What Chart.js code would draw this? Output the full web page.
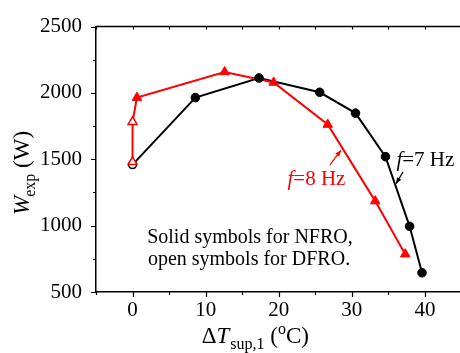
<!DOCTYPE html>
<html>
<head>
<meta charset="utf-8">
<script src="https://cdn.jsdelivr.net/npm/chart.js@4"></script>
<style>
  html, body { margin: 0; padding: 0; background: #fff; }
  #wrap { width: 460px; height: 353px; overflow: hidden; position: relative; }
  canvas { position: absolute; left: 0; top: 0; }
</style>
</head>
<body>
<div id="wrap"><canvas id="c" width="470" height="353"></canvas></div>
<script>
// Superheat degree ΔT_sup,1 (°C) and power W_exp (W)
// f = 7 Hz, circles
const f7NfroDT = [8.6, 17.3, 25.6, 30.5, 34.6, 37.9, 39.6];
const f7NfroW  = [1965, 2113, 2005, 1848, 1520, 995, 645];
const f7DfroDT = [0];
const f7DfroW  = [1460];
// f = 8 Hz, triangles
const f8NfroDT = [0.6, 12.6, 19.3, 26.7, 33.2, 37.3];
const f8NfroW  = [1965, 2158, 2079, 1762, 1185, 785];
const f8DfroDT = [0, 0];
const f8DfroW  = [1480, 1782];

const xTicks = [0, 10, 20, 30, 40];
const yTicks = [500, 1000, 1500, 2000, 2500];

const pts = (xs, ys) => xs.map((x, i) => ({ x: x, y: ys[i] }));
const FONT = '"Liberation Serif", "Times New Roman", serif';
const RED = '#ff0000';
Chart.defaults.font.family = FONT;

// draw a run of text pieces along a baseline (normal / italic / sub / sup)
function drawRuns(ctx, runs, x, y, color, base) {
  ctx.save();
  ctx.fillStyle = color;
  ctx.textBaseline = 'alphabetic';
  ctx.textAlign = 'left';
  let cx = x;
  for (const r of runs) {
    const size = r.size || base || 20;
    ctx.font = (r.italic ? 'italic ' : '') + size + 'px ' + FONT;
    ctx.fillText(r.t, cx, y + (r.dy || 0));
    cx += ctx.measureText(r.t).width + (r.kern || 0);
  }
  ctx.restore();
}

const decor = {
  id: 'decor',
  afterDraw(chart) {
    const { ctx, chartArea: a, scales: { x, y } } = chart;
    ctx.save();
    ctx.strokeStyle = '#000';
    ctx.lineWidth = 1.5;
    // top frame line
    ctx.beginPath();
    ctx.moveTo(a.left, a.top);
    ctx.lineTo(a.right + 2, a.top);
    ctx.stroke();
    // ticks
    ctx.lineWidth = 1.2;
    ctx.beginPath();
    for (let v = -5; v <= 45; v += 5) {
      const px = Math.round(x.getPixelForValue(v)) + 0.5;
      const major = v % 10 === 0;
      ctx.moveTo(px, a.bottom);
      ctx.lineTo(px, a.bottom + (major ? 5 : 3));
      ctx.moveTo(px, a.top);
      ctx.lineTo(px, a.top + 3);
    }
    for (let v = 500; v <= 2500; v += 250) {
      const py = Math.round(y.getPixelForValue(v)) + 0.5;
      const major = v % 500 === 0;
      ctx.moveTo(a.left, py);
      ctx.lineTo(a.left - (major ? 5 : 3), py);
    }
    ctx.stroke();

    // annotation arrows
    const arrow = (x0, y0, x1, y1, color) => {
      const X0 = x.getPixelForValue(x0), Y0 = y.getPixelForValue(y0);
      const X1 = x.getPixelForValue(x1), Y1 = y.getPixelForValue(y1);
      const ang = Math.atan2(Y1 - Y0, X1 - X0);
      ctx.strokeStyle = color; ctx.fillStyle = color; ctx.lineWidth = 1.2;
      ctx.beginPath(); ctx.moveTo(X0, Y0); ctx.lineTo(X1, Y1); ctx.stroke();
      const L = 6, W = 2.5;
      ctx.beginPath();
      ctx.moveTo(X1, Y1);
      ctx.lineTo(X1 - L * Math.cos(ang) + W * Math.sin(ang), Y1 - L * Math.sin(ang) - W * Math.cos(ang));
      ctx.lineTo(X1 - L * Math.cos(ang) - W * Math.sin(ang), Y1 - L * Math.sin(ang) + W * Math.cos(ang));
      ctx.closePath(); ctx.fill();
    };
    arrow(27.0, 1458, 28.5, 1568, RED);
    arrow(37.0, 1405, 36.05, 1316, '#000');
    ctx.restore();

    // annotation texts
    const px = v => x.getPixelForValue(v), py = v => y.getPixelForValue(v);
    drawRuns(ctx, [{ t: 'f', italic: true }, { t: '=8 Hz' }], px(21.2), py(1304), RED, 21);
    drawRuns(ctx, [{ t: 'f', italic: true }, { t: '=7 Hz' }], px(36.1), py(1450), '#000', 21);
    drawRuns(ctx, [{ t: 'Solid symbols for NFRO,' }], px(2.0), py(868), '#000', 20);
    drawRuns(ctx, [{ t: 'open symbols for DFRO.' }], px(2.1), py(706), '#000', 20);

    // axis titles
    drawRuns(ctx, [
      { t: 'Δ' }, { t: 'T', italic: true, kern: 1 },
      { t: 'sup,1', size: 16, dy: 6 }, { t: ' (' },
      { t: 'o', size: 16, dy: -9 }, { t: 'C)' }
    ], 201.7, 343, '#000', 23);

    ctx.save();
    ctx.translate(29, 215);
    ctx.rotate(-Math.PI / 2);
    drawRuns(ctx, [
      { t: 'W', italic: true, kern: -1 }, { t: 'exp', size: 16, dy: 6 }, { t: ' (W)' }
    ], 0, 0, '#000', 23);
    ctx.restore();
  }
};

function build() {
  new Chart(document.getElementById('c'), {
    type: 'scatter',
    data: {
      datasets: [
        { // f = 7 Hz line
          type: 'line', data: pts(f7DfroDT.concat(f7NfroDT), f7DfroW.concat(f7NfroW)),
          borderColor: '#000', borderWidth: 2, pointRadius: 0, fill: false, tension: 0, order: 4
        },
        { // f = 8 Hz line
          type: 'line', data: pts(f8DfroDT.concat(f8NfroDT), f8DfroW.concat(f8NfroW)),
          borderColor: RED, borderWidth: 2, pointRadius: 0, fill: false, tension: 0, order: 3
        },
        { data: pts(f7DfroDT, f7DfroW), pointStyle: 'circle', pointRadius: 4,
          backgroundColor: '#fff', borderColor: '#000', borderWidth: 1.5, order: 2 },
        { data: pts(f7NfroDT, f7NfroW), pointStyle: 'circle', pointRadius: 4.3,
          backgroundColor: '#000', borderColor: '#000', borderWidth: 1, order: 2 },
        { data: pts(f8DfroDT, f8DfroW), pointStyle: 'triangle', pointRadius: 5.2,
          backgroundColor: '#fff', borderColor: RED, borderWidth: 1.5, order: 1 },
        { data: pts(f8NfroDT, f8NfroW), pointStyle: 'triangle', pointRadius: 5.5,
          backgroundColor: RED, borderColor: RED, borderWidth: 1, order: 1 }
      ]
    },
    options: {
      responsive: false,
      devicePixelRatio: 1,
      animation: false,
      events: [],
      layout: { padding: { top: 20, right: 8.5, left: 0, bottom: 0 } },
      plugins: { legend: { display: false }, tooltip: { enabled: false } },
      scales: {
        x: {
          type: 'linear', min: -5, max: 45,
          afterBuildTicks: s => { s.ticks = xTicks.map(v => ({ value: v })); },
          afterFit: s => { s.height = 61; },
          grid: { display: false, drawTicks: false, tickLength: 0 },
          border: { display: true, color: '#000', width: 1.5 },
          ticks: { color: '#000', font: { family: FONT, size: 21 }, padding: 6, maxRotation: 0,
                   callback: v => String(v) }
        },
        y: {
          type: 'linear', min: 500, max: 2500,
          afterBuildTicks: s => { s.ticks = yTicks.map(v => ({ value: v })); },
          afterFit: s => { s.width = 96; },
          grid: { display: false, drawTicks: false, tickLength: 0 },
          border: { display: true, color: '#000', width: 1.5 },
          ticks: { color: '#000', font: { family: FONT, size: 21 }, padding: 14,
                   callback: v => String(v) }
        }
      }
    },
    plugins: [decor]
  });
}

if (document.fonts && document.fonts.load) {
  Promise.all([
    document.fonts.load('20px "Liberation Serif"'),
    document.fonts.load('italic 20px "Liberation Serif"')
  ]).then(build, build);
} else {
  build();
}
</script>
</body>
</html>
